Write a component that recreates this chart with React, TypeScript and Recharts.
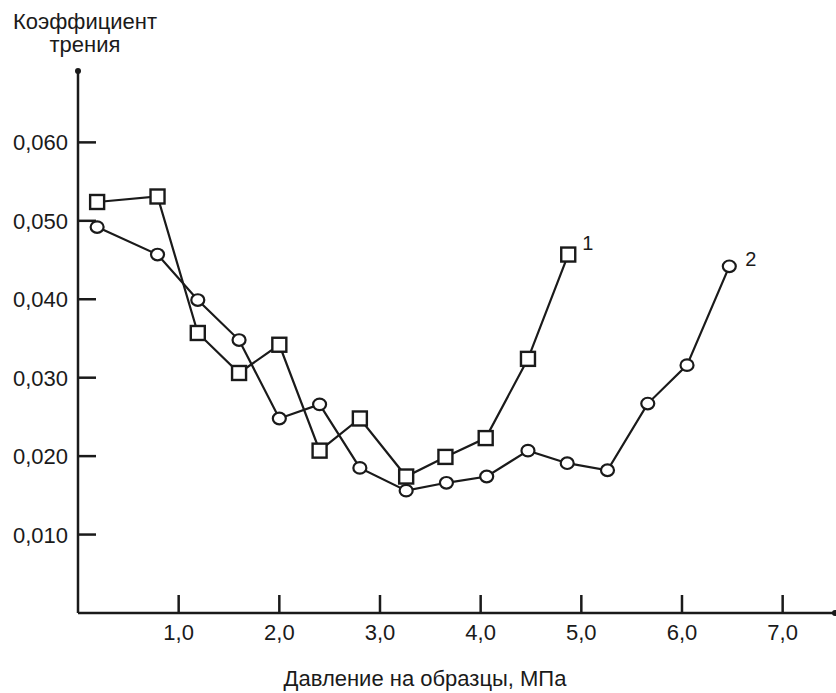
import { LineChart, Line, XAxis, YAxis, ReferenceDot } from "recharts";

// Series 1 (squares)
const pressure1 = [0.19, 0.79, 1.19, 1.6, 2.0, 2.4, 2.8, 3.26, 3.65, 4.05, 4.47, 4.87];
const friction1 = [0.0524, 0.0531, 0.0357, 0.0306, 0.0342, 0.0207, 0.0248, 0.0174, 0.0199, 0.0223, 0.0324, 0.0457];

// Series 2 (circles)
const pressure2 = [0.19, 0.79, 1.19, 1.6, 2.0, 2.4, 2.8, 3.26, 3.66, 4.06, 4.47, 4.86, 5.26, 5.66, 6.05, 6.47];
const friction2 = [0.0492, 0.0457, 0.0399, 0.0348, 0.0248, 0.0266, 0.0185, 0.0156, 0.0166, 0.0174, 0.0207, 0.0191, 0.0182, 0.0267, 0.0316, 0.0442];

const xTicks = [1, 2, 3, 4, 5, 6, 7];
const yTicks = [0.01, 0.02, 0.03, 0.04, 0.05, 0.06];
const seriesNames = ["1", "2"];

const X_MAX = 7.52;
const Y_MAX = 0.0691;

const series1 = pressure1.map((x, i) => ({ x, y: friction1[i] }));
const series2 = pressure2.map((x, i) => ({ x, y: friction2[i] }));

const INK = "#1a1a1a";
const FONT = '"Liberation Sans", Arial, sans-serif';

const comma = (v: number, digits: number) => v.toFixed(digits).replace(".", ",");

const XTick = ({ x, y, payload }: any) => (
  <g>
    <line x1={x} y1={y} x2={x} y2={y - 18} stroke={INK} strokeWidth={2.5} />
    <text x={x} y={y + 27} textAnchor="middle" fontSize={22} fontFamily={FONT} fill={INK}>
      {comma(payload.value, 1)}
    </text>
  </g>
);

const YTick = ({ x, y, payload }: any) => (
  <g>
    <line x1={x} y1={y} x2={x + 18} y2={y} stroke={INK} strokeWidth={2.5} />
    <text x={x - 10} y={y + 8} textAnchor="end" fontSize={22} fontFamily={FONT} fill={INK}>
      {comma(payload.value, 3)}
    </text>
  </g>
);

const SquareDot = ({ cx, cy }: any) => (
  <rect x={cx - 7} y={cy - 7} width={14} height={14} fill="#fff" stroke={INK} strokeWidth={2.4} />
);

const CircleDot = ({ cx, cy }: any) => (
  <ellipse cx={cx} cy={cy} rx={6.5} ry={5.8} fill="#fff" stroke={INK} strokeWidth={2.2} />
);

const endLabel = (name: string, count: number, dx: number, dy: number) => (props: any) => {
  if (props.index !== count - 1) return null;
  return (
    <text x={props.x + dx} y={props.y + dy} fontSize={20} fontFamily={FONT} fill={INK}>
      {name}
    </text>
  );
};

export default function App() {
  return (
    <div style={{ position: "absolute", left: 0, top: 0, width: 836, height: 693, background: "#fff", fontFamily: FONT }}>
      <div style={{ position: "absolute", left: 0, top: 10, width: 170, textAlign: "center", fontSize: 22, lineHeight: "23px", color: INK }}>
        Коэффициент
        <br />
        трения
      </div>
      <LineChart width={836} height={693} margin={{ top: 71, right: 1, left: 0, bottom: 0 }}>
        <XAxis
          type="number"
          dataKey="x"
          domain={[0, X_MAX]}
          ticks={xTicks}
          interval={0}
          tickSize={0}
          tickMargin={0}
          tickLine={false}
          tick={<XTick />}
          height={80}
          axisLine={{ stroke: INK, strokeWidth: 2.5 }}
          allowDataOverflow
        />
        <YAxis
          type="number"
          dataKey="y"
          domain={[0, Y_MAX]}
          ticks={yTicks}
          interval={0}
          tickSize={0}
          tickMargin={0}
          tickLine={false}
          tick={<YTick />}
          width={78}
          axisLine={{ stroke: INK, strokeWidth: 2.5 }}
          allowDataOverflow
        />
        <ReferenceDot x={0} y={Y_MAX} r={3} fill={INK} stroke="none" ifOverflow="visible" />
        <ReferenceDot x={X_MAX} y={0} r={3} fill={INK} stroke="none" ifOverflow="visible" />
        <Line
          data={series2}
          dataKey="y"
          stroke={INK}
          strokeWidth={2.2}
          dot={<CircleDot />}
          activeDot={false}
          isAnimationActive={false}
          label={endLabel(seriesNames[1], series2.length, 16, 0)}
        />
        <Line
          data={series1}
          dataKey="y"
          stroke={INK}
          strokeWidth={2.2}
          dot={<SquareDot />}
          activeDot={false}
          isAnimationActive={false}
          label={endLabel(seriesNames[0], series1.length, 14, -5)}
        />
      </LineChart>
      <div style={{ position: "absolute", left: 225, top: 667, width: 400, textAlign: "center", fontSize: 22, lineHeight: "23px", color: INK }}>
        Давление на образцы, МПа
      </div>
    </div>
  );
}
